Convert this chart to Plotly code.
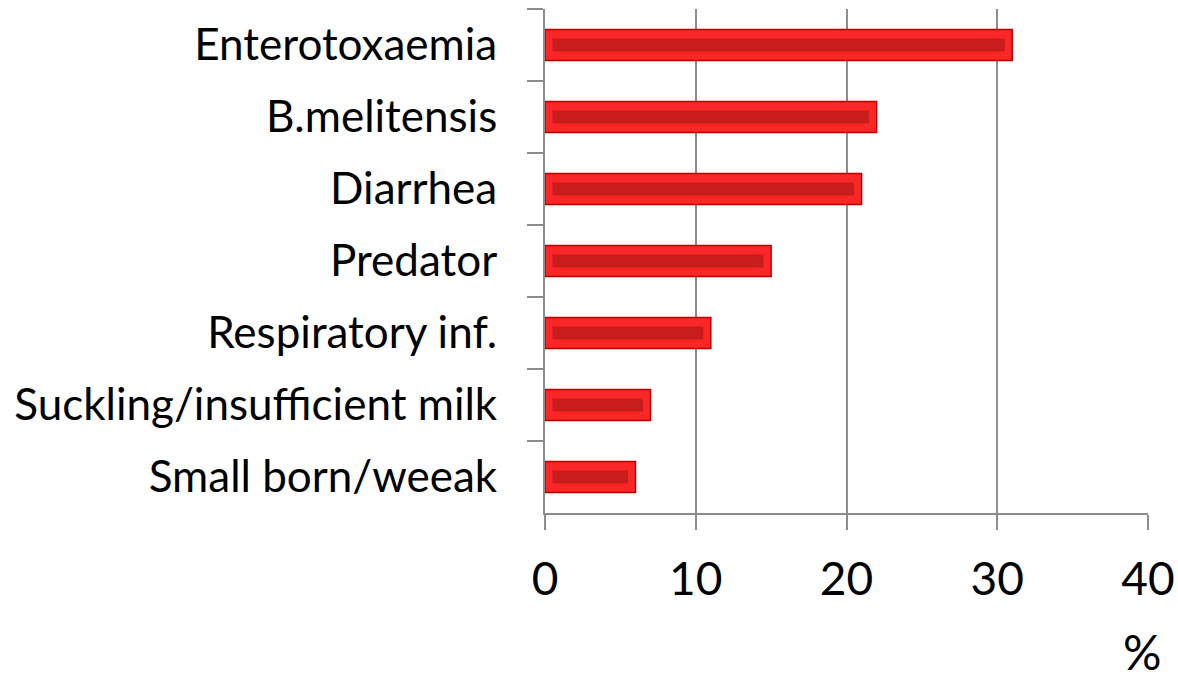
import plotly.graph_objects as go

categories = ["Enterotoxaemia", "B.melitensis", "Diarrhea", "Predator",
              "Respiratory inf.", "Suckling/insufficient milk", "Small born/weeak"]
values = [31, 22, 21, 15, 11, 7, 6]
x_ticks = [0, 10, 20, 30, 40]
x_unit_label = "%"

GRID = "#8c8c8c"
FONT = "Lato"

inset = 0.5
inner_vals = [v - 2 * inset for v in values]

fig = go.Figure()
fig.add_trace(go.Bar(
    y=categories, x=values, orientation="h", width=0.43,
    marker=dict(color="#fb2626", line=dict(color="#c00000", width=1.5)),
    hoverinfo="x+y", showlegend=False,
))
fig.add_trace(go.Bar(
    y=categories, x=inner_vals, base=[inset] * len(values), orientation="h", width=0.18,
    marker=dict(color="#c81d1d", line=dict(width=0)),
    hoverinfo="skip", showlegend=False,
))

fig.update_layout(
    width=1178, height=683,
    margin=dict(l=545, r=30, t=9, b=170),
    barmode="overlay",
    plot_bgcolor="white", paper_bgcolor="white",
    font=dict(family=FONT, size=44, color="black"),
    xaxis=dict(
        range=[0, 40], tickvals=x_ticks, ticktext=[str(t) for t in x_ticks],
        showgrid=True, gridcolor=GRID, gridwidth=2,
        showline=True, linecolor=GRID, linewidth=2,
        ticks="outside", ticklen=15, tickcolor=GRID, tickwidth=2,
        zeroline=False, ticklabelstandoff=10, automargin=False,
        tickfont=dict(size=46),
    ),
    yaxis=dict(
        categoryorder="array", categoryarray=categories, autorange="reversed",
        showgrid=False, showline=True, linecolor=GRID, linewidth=2,
        ticks="outside", tickson="boundaries", ticklen=16, tickcolor=GRID, tickwidth=2,
        ticklabelstandoff=37, automargin=False,
        tickfont=dict(size=44),
    ),
    annotations=[dict(
        text=x_unit_label, xref="x", yref="paper", x=39.6, y=-0.275,
        xanchor="center", yanchor="middle", showarrow=False,
        font=dict(size=48, family=FONT),
    )],
)

fig.write_html("out.html", config={"displayModeBar": False},
               post_script="document.body.style.margin='0';document.body.style.overflow='hidden';")
